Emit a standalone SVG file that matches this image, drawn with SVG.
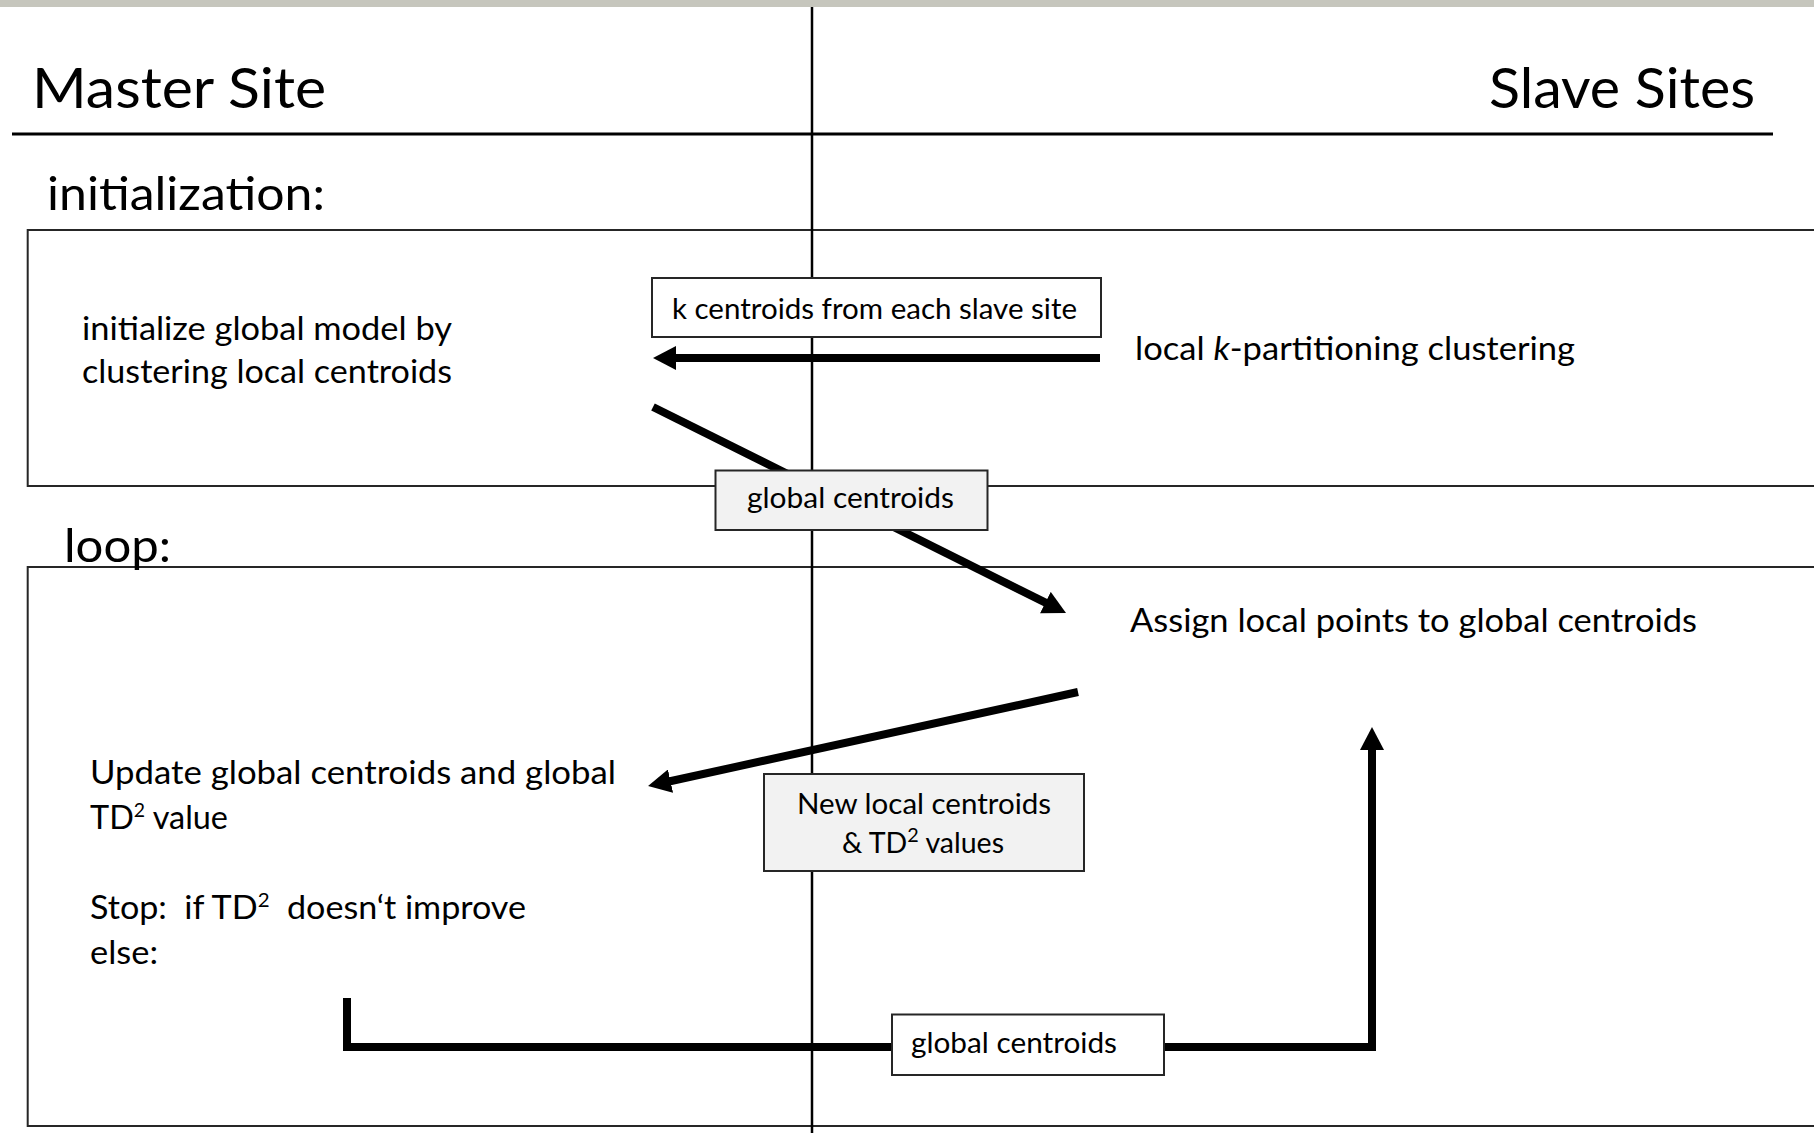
<svg xmlns="http://www.w3.org/2000/svg" width="1814" height="1133" viewBox="0 0 1814 1133">
<defs>
<style>
text{font-family:Lato,"Liberation Sans",sans-serif;fill:#000}
.h1{font-size:56px}
.h2{font-size:47px}
.body{font-size:33.3px}
.lbl{font-size:28.8px}
.sup{font-size:20px}
.frame{fill:none;stroke:#262626;stroke-width:2}
.lblbox{stroke:#262626;stroke-width:2}
.white{fill:#fff}
.gray{fill:#f2f2f2}
.conn{fill:none;stroke:#000;stroke-width:8}
</style>
<marker id="ah" markerUnits="userSpaceOnUse" markerWidth="24" markerHeight="24" refX="4" refY="12" orient="auto"><path d="M0,0 L23,12 L0,24 z" fill="#000"/></marker>
</defs>
<rect x="0" y="0" width="1814" height="1133" fill="#fff"/>
<rect x="0" y="0" width="1814" height="7" fill="#c6c6bd"/>

<g id="init-frame"><rect class="frame" x="27.7" y="230" width="1800" height="256"/></g>
<g id="loop-frame"><rect class="frame" x="27.7" y="567" width="1800" height="559"/></g>

<g id="divider">
<line x1="812" y1="7" x2="812" y2="1133" stroke="#000" stroke-width="2.5"/>
<line x1="12" y1="134" x2="1773" y2="134" stroke="#000" stroke-width="3"/>
</g>

<g id="master-header"><text class="h1" x="32" y="108" textLength="294" lengthAdjust="spacingAndGlyphs">Master Site</text></g>
<g id="slave-header"><text class="h1" x="1489" y="108" textLength="266" lengthAdjust="spacingAndGlyphs">Slave Sites</text></g>
<g id="init-label"><text class="h2" x="47" y="210" textLength="278" lengthAdjust="spacingAndGlyphs">initialization:</text></g>
<g id="loop-label"><text class="h2" x="64" y="562" textLength="107" lengthAdjust="spacingAndGlyphs">loop:</text></g>

<g id="init-global">
<text class="body" x="82" y="340" textLength="370" lengthAdjust="spacingAndGlyphs">initialize global model by</text>
<text class="body" x="82" y="383" textLength="370" lengthAdjust="spacingAndGlyphs">clustering local centroids</text>
</g>
<g id="local-clustering">
<text class="body" x="1135" y="360" textLength="440" lengthAdjust="spacingAndGlyphs">local <tspan font-style="italic">k</tspan>-partitioning clustering</text>
</g>
<g id="assign">
<text class="body" x="1130" y="632" textLength="567" lengthAdjust="spacingAndGlyphs">Assign local points to global centroids</text>
</g>
<g id="update">
<text class="body" x="90" y="784" textLength="526" lengthAdjust="spacingAndGlyphs">Update global centroids and global</text>
<text class="body" x="90" y="829" textLength="138" lengthAdjust="spacingAndGlyphs">TD<tspan class="sup" dy="-12">2</tspan><tspan dy="12"> value</tspan></text>
<text class="body" x="90" y="919" xml:space="preserve" textLength="436" lengthAdjust="spacingAndGlyphs">Stop:  if TD<tspan class="sup" dy="-12">2</tspan><tspan dy="12">  doesn‘t improve</tspan></text>
<text class="body" x="90" y="964" textLength="68" lengthAdjust="spacingAndGlyphs">else:</text>
</g>

<g id="connectors">
<line class="conn" x1="1100" y1="358" x2="672" y2="358" marker-end="url(#ah)"/>
<line class="conn" x1="653" y1="407" x2="1049" y2="604.4" marker-end="url(#ah)"/>
<line class="conn" x1="1078" y1="692" x2="666.6" y2="782" marker-end="url(#ah)"/>
<path class="conn" d="M347,998 V1047 H1372 V746" marker-end="url(#ah)"/>
</g>

<g id="k-centroids-box">
<rect class="lblbox white" x="652" y="278" width="449" height="59"/>
<text class="lbl" x="672" y="319" textLength="405" lengthAdjust="spacingAndGlyphs">k centroids from each slave site</text>
</g>
<g id="global-centroids-1">
<rect class="lblbox gray" x="715.5" y="470.5" width="272" height="59.5"/>
<text class="lbl" x="747" y="508" textLength="207" lengthAdjust="spacingAndGlyphs">global centroids</text>
</g>
<g id="new-local-centroids">
<rect class="lblbox gray" x="764" y="774" width="320" height="97"/>
<text class="lbl" x="797" y="814" textLength="254" lengthAdjust="spacingAndGlyphs">New local centroids</text>
<text class="lbl" x="842" y="853" textLength="162" lengthAdjust="spacingAndGlyphs">&amp; TD<tspan class="sup" dy="-11">2</tspan><tspan dy="11"> values</tspan></text>
</g>
<g id="global-centroids-2">
<rect class="lblbox white" x="892" y="1014.5" width="272" height="60.5"/>
<text class="lbl" x="911" y="1053" textLength="206" lengthAdjust="spacingAndGlyphs">global centroids</text>
</g>
</svg>
